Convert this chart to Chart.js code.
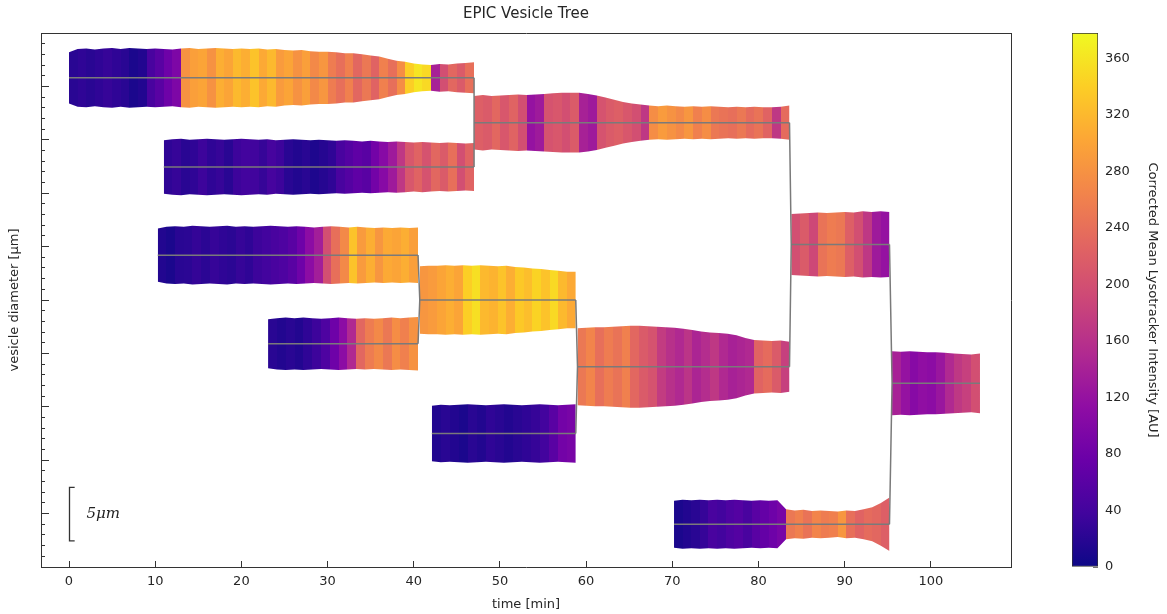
<!DOCTYPE html>
<html>
<head>
<meta charset="utf-8">
<title>EPIC Vesicle Tree</title>
<script src="https://cdn.jsdelivr.net/npm/chart.js@4.4.1/dist/chart.umd.min.js"></script>
<style>
  html, body { margin: 0; padding: 0; background: #fff; }
  #wrap { position: relative; width: 1167px; height: 614px; overflow: hidden; }
  #main { position: absolute; left: 0; top: 0; }
  #cbar { position: absolute; left: 1046px; top: 0; }
</style>
</head>
<body>
<div id="wrap">
  <canvas id="main" width="1046" height="614"></canvas>
  <canvas id="cbar" width="121" height="614"></canvas>
</div>
<script>
// axis limits
const xMin = -3.25, xMax = 109.3;   // time [min]
const yMin = 0, yMax = 50;          // µm
const cbMax = 378;                  // colour bar top (AU)

// branches of the tree: start/end time [min], centre line [µm]
const branchNames  = ['A', 'B', 'C', 'D', 'E', 'F', 'G', 'H', 'I', 'J', 'K'];
const branchStart  = [0, 11.0, 10.3, 23.1, 40.7, 42.1, 47.0, 59.0, 83.8, 70.2, 95.5];
const branchEnd    = [47.0, 47.0, 40.5, 40.5, 58.8, 58.8, 83.6, 83.6, 95.2, 95.2, 105.7];
const branchCenter = [45.8, 37.45, 29.2, 20.9, 25.0, 12.5, 41.6, 18.75, 30.2, 4.0, 17.2];

// fusions: [upper child, product, lower child]
const merges = [[0, 6, 1], [2, 4, 3], [4, 7, 5], [6, 8, 7], [8, 10, 9]];

// vesicle diameter [µm] along each branch (evenly spaced from start to end)
const diamA = [4.8, 5.4, 5.5, 5.3, 5.5, 5.6, 5.4, 5.6, 5.5, 5.4,
               5.5, 5.4, 5.3, 5.5, 5.6, 5.4, 5.5, 5.6, 5.5, 5.4,
               5.5, 5.4, 5.5, 5.3, 5.4, 5.2, 5.1, 5.2, 5.0, 4.9,
               4.9, 4.8, 4.6, 4.6, 4.4, 4.2, 4.0, 3.6, 3.2, 3.0,
               2.7, 2.5, 2.4, 2.6, 2.5, 2.7, 2.8, 2.9];
const diamB = [5.0, 5.2, 5.3, 5.1, 5.2, 5.3, 5.2, 5.1, 5.2, 5.3,
               5.2, 5.1, 5.2, 5.0, 5.1, 5.2, 5.1, 5.0, 5.1, 5.0,
               4.9, 5.0, 4.9, 4.8, 4.9, 4.8, 4.7, 4.8, 4.7, 4.6,
               4.7, 4.6, 4.5, 4.6, 4.5, 4.4, 4.5];
const diamC = [5.0, 5.3, 5.4, 5.3, 5.5, 5.4, 5.3, 5.4, 5.5, 5.3,
               5.4, 5.3, 5.4, 5.5, 5.4, 5.3, 5.4, 5.3, 5.2, 5.3,
               5.4, 5.3, 5.2, 5.3, 5.2, 5.1, 5.2, 5.1, 5.2, 5.1, 5.2];
const diamD = [4.6, 4.8, 4.9, 4.8, 4.9, 4.8, 4.7, 4.8, 4.9, 4.8,
               4.7, 4.8, 4.7, 4.8, 4.9, 4.8, 4.9, 5.0];
const diamE = [6.3, 6.4, 6.4, 6.5, 6.4, 6.5, 6.4, 6.5, 6.4, 6.3,
               6.4, 6.2, 6.1, 5.9, 5.8, 5.6, 5.5, 5.3, 5.3];
const diamF = [5.2, 5.4, 5.3, 5.4, 5.5, 5.4, 5.3, 5.4, 5.5, 5.4,
               5.3, 5.4, 5.5, 5.4, 5.3, 5.4, 5.5];
const diamG = [5.0, 5.2, 5.0, 5.1, 5.2, 5.3, 5.2, 5.3, 5.4, 5.5,
               5.6, 5.6, 5.6, 5.4, 5.1, 4.7, 4.3, 3.9, 3.6, 3.4,
               3.2, 3.1, 3.2, 3.1, 3.0, 3.1, 3.0, 3.1, 3.0, 2.9,
               3.0, 2.9, 3.0, 2.9, 2.9, 3.0, 3.2];
const diamH = [7.2, 7.3, 7.4, 7.4, 7.5, 7.6, 7.7, 7.7, 7.6, 7.5,
               7.4, 7.3, 7.1, 6.9, 6.6, 6.4, 6.3, 6.2, 5.9, 5.4,
               5.0, 4.9, 4.8, 4.9, 4.7];
const diamI = [5.7, 5.8, 5.9, 6.0, 5.9, 6.0, 6.1, 6.0, 6.2, 6.1, 6.2, 6.1];
const diamJ = [4.4, 4.6, 4.5, 4.6, 4.5, 4.6, 4.5, 4.6, 4.5, 4.4,
               4.5, 4.4, 4.5, 2.8, 2.6, 2.7, 2.5, 2.6, 2.5, 2.4,
               2.6, 2.5, 2.8, 3.2, 4.0, 5.0];
const diamK = [6.0, 5.9, 6.0, 5.9, 5.8, 5.8, 5.7, 5.6, 5.5, 5.4, 5.6];

// corrected mean lysotracker intensity [AU] at the same samples
const intA = [20, 25, 20, 25, 30, 25, 20, 10, 15, 45,
              60, 80, 95, 280, 295, 300, 280, 310, 300, 320,
              310, 330, 305, 320, 290, 300, 280, 295, 270, 285,
              255, 240, 260, 230, 250, 225, 260, 240, 275, 340,
              360, 350, 140, 200, 230, 215, 240, 235];
const intB = [25, 30, 20, 25, 35, 25, 30, 20, 35, 40,
              38, 30, 42, 35, 20, 15, 20, 12, 18, 25,
              45, 55, 65, 60, 85, 105, 130, 170, 210, 225,
              205, 230, 215, 240, 200, 225, 220];
const intC = [15, 10, 20, 22, 28, 22, 30, 25, 22, 30,
              25, 35, 40, 45, 50, 60, 80, 110, 135, 200,
              240, 270, 330, 290, 310, 285, 305, 300, 310, 295, 285];
const intD = [20, 15, 20, 15, 25, 35, 50, 80, 110, 150,
              230, 255, 270, 250, 275, 260, 280, 270];
const intE = [285, 290, 300, 310, 300, 340, 355, 320, 315, 330,
              310, 335, 325, 345, 330, 350, 320, 305, 300];
const intF = [15, 20, 15, 10, 20, 15, 25, 20, 15, 20,
              25, 30, 40, 60, 85, 90, 95];
const intG = [220, 215, 230, 210, 225, 200, 120, 130, 205, 210,
              200, 215, 140, 130, 205, 215, 220, 210, 200, 170,
              275, 290, 280, 270, 285, 260, 275, 250, 245, 240,
              250, 235, 245, 225, 170, 235, 240];
const intH = [250, 265, 240, 255, 245, 260, 230, 215, 205, 175,
              160, 150, 165, 145, 155, 170, 150, 140, 145, 150,
              225, 235, 215, 180, 175];
const intI = [200, 215, 190, 245, 255, 250, 220, 200, 170, 130, 120, 135];
const intJ = [10, 15, 20, 30, 45, 40, 50, 55, 45, 60,
              70, 80, 90, 250, 260, 245, 265, 255, 260, 285,
              240, 225, 235, 230, 220, 215];
const intK = [140, 120, 105, 115, 110, 125, 150, 170, 180, 200, 205];

const colorTicks = [0, 40, 80, 120, 160, 200, 240, 280, 320, 360];

// scale bar
const scaleBarTime = 0;
const scaleBarBase = 2.45;
const scaleBarLength = 5;
const scaleBarLabel = '5μm';

const diams = [diamA, diamB, diamC, diamD, diamE, diamF, diamG, diamH, diamI, diamJ, diamK];
const ints = [intA, intB, intC, intD, intE, intF, intG, intH, intI, intJ, intK];

/* ── plasma colormap ── */
const plasmaStops = ['#0d0887', '#41049d', '#6a00a8', '#8f0da4', '#b12a90', '#cc4778',
                     '#e16462', '#f2844b', '#fca636', '#fcce25', '#f0f921'];
const plasmaRgb = plasmaStops.map(h => [1, 3, 5].map(i => parseInt(h.substr(i, 2), 16)));

function plasma(v) {
    const f = Math.max(0, Math.min(1, v / cbMax)) * 10;
    const i = Math.min(9, Math.floor(f));
    const t = f - i;
    const a = plasmaRgb[i], b = plasmaRgb[i + 1];
    const c = a.map((ch, k) => Math.round(ch + (b[k] - ch) * t));
    return `rgb(${c[0]}, ${c[1]}, ${c[2]})`;
}

// horizontal striped gradient for one branch, positioned through the x scale
function branchFill(b) {
    return ctx => {
        const chart = ctx.chart;
        const xs = chart.scales.x;
        if (!chart.chartArea || !xs) return plasma(ints[b][0]);
        const x0 = xs.getPixelForValue(branchStart[b]);
        const x1 = xs.getPixelForValue(branchEnd[b]);
        const g = chart.ctx.createLinearGradient(x0, 0, x1, 0);
        const vals = ints[b];
        const n = vals.length;
        for (let i = 0; i < n - 1; i++) {
            const col = plasma(vals[i]);
            g.addColorStop(i / (n - 1), col);
            g.addColorStop((i + 1) / (n - 1), col);
        }
        return g;
    };
}

/* ── datasets ── */
const datasets = [];
const lineGrey = '#7a7a7a';

branchNames.forEach((name, b) => {
    const d = diams[b];
    const n = d.length;
    const times = d.map((_, i) => branchStart[b] + i * (branchEnd[b] - branchStart[b]) / (n - 1));
    datasets.push({
        label: name + ' upper',
        data: times.map((t, i) => ({ x: t, y: branchCenter[b] + d[i] / 2 })),
        fill: '+1',
        backgroundColor: branchFill(b),
        borderColor: 'rgba(0,0,0,0)',
        borderWidth: 0,
        pointRadius: 0,
        order: 2
    });
    datasets.push({
        label: name + ' lower',
        data: times.map((t, i) => ({ x: t, y: branchCenter[b] - d[i] / 2 })),
        fill: false,
        borderColor: 'rgba(0,0,0,0)',
        borderWidth: 0,
        pointRadius: 0,
        order: 2
    });
});

// centre lines
branchNames.forEach((name, b) => {
    datasets.push({
        label: name + ' axis',
        data: [{ x: branchStart[b], y: branchCenter[b] }, { x: branchEnd[b], y: branchCenter[b] }],
        borderColor: lineGrey,
        borderWidth: 1.5,
        pointRadius: 0,
        fill: false,
        order: 0
    });
});

// fusion connectors
merges.forEach(([u, p, l]) => {
    datasets.push({
        label: 'fusion ' + branchNames[p],
        data: [
            { x: branchEnd[u], y: branchCenter[u] },
            { x: branchStart[p], y: branchCenter[p] },
            { x: branchEnd[l], y: branchCenter[l] }
        ],
        borderColor: lineGrey,
        borderWidth: 1.5,
        pointRadius: 0,
        fill: false,
        order: 0
    });
});

/* ── scale bar ── */
const scaleBarPlugin = {
    id: 'scaleBar',
    afterDatasetsDraw(chart) {
        const { ctx, scales: { x, y } } = chart;
        const px = Math.round(x.getPixelForValue(scaleBarTime)) + 0.5;
        const y0 = y.getPixelForValue(scaleBarBase);
        const y1 = y.getPixelForValue(scaleBarBase + scaleBarLength);
        const cap = x.getPixelForValue(scaleBarTime + 0.6) - x.getPixelForValue(scaleBarTime);
        ctx.save();
        ctx.strokeStyle = '#333';
        ctx.lineWidth = 1.3;
        ctx.beginPath();
        ctx.moveTo(px + cap, y0);
        ctx.lineTo(px, y0);
        ctx.lineTo(px, y1);
        ctx.lineTo(px + cap, y1);
        ctx.stroke();
        ctx.font = 'italic 15px "DejaVu Serif"';
        ctx.fillStyle = '#222';
        ctx.textBaseline = 'middle';
        ctx.fillText(scaleBarLabel, px + 17, (y0 + y1) / 2);
        ctx.restore();
    }
};

const axisColor = '#333';
const textColor = '#262626';
const font13 = { family: 'DejaVu Sans', size: 13 };

new Chart(document.getElementById('main'), {
    type: 'line',
    data: { datasets },
    options: {
        responsive: false,
        animation: false,
        events: [],
        layout: { padding: { left: 0, right: 35, top: 0, bottom: 0 } },
        plugins: {
            legend: { display: false },
            tooltip: { enabled: false },
            title: {
                display: true,
                text: 'EPIC Vesicle Tree',
                color: textColor,
                fullSize: false,
                font: { family: 'DejaVu Sans', size: 15, weight: 'normal' },
                padding: { top: 5, bottom: 10 }
            }
        },
        scales: {
            x: {
                type: 'linear',
                position: 'bottom',
                min: xMin, max: xMax,
                ticks: { stepSize: 10, includeBounds: false, color: textColor, font: font13, padding: 13, maxRotation: 0 },
                grid: { drawOnChartArea: false, tickLength: -6, tickColor: axisColor },
                border: { color: axisColor, width: 1 },
                title: { display: true, text: 'time [min]', color: textColor, font: font13, padding: { top: 0, bottom: 2 } },
                afterFit: s => { s.height = 47; }
            },
            xTop: {
                type: 'linear',
                position: 'top',
                min: xMin, max: xMax,
                ticks: { display: false },
                grid: { drawOnChartArea: false, drawTicks: false },
                border: { color: axisColor, width: 1 },
                afterFit: s => { s.height = 0; }
            },
            y: {
                type: 'linear',
                position: 'left',
                weight: 1,
                min: yMin, max: yMax,
                ticks: { stepSize: 5, display: false },
                grid: { drawOnChartArea: false, tickLength: -8, tickColor: axisColor },
                border: { color: axisColor, width: 1 },
                title: { display: true, text: 'vesicle diameter [μm]', color: textColor, font: font13, padding: { top: 7, bottom: 0 } },
                afterFit: s => { s.width = 41; }
            },
            yMinor: {
                type: 'linear',
                position: 'left',
                weight: 0,
                min: yMin, max: yMax,
                ticks: { stepSize: 1, display: false },
                grid: { drawOnChartArea: false, tickLength: -4, tickColor: axisColor },
                border: { display: false },
                afterFit: s => { s.width = 0; }
            },
            yRight: {
                type: 'linear',
                position: 'right',
                min: yMin, max: yMax,
                ticks: { display: false },
                grid: { drawOnChartArea: false, drawTicks: false },
                border: { color: axisColor, width: 1 },
                afterFit: s => { s.width = 0; }
            }
        }
    },
    plugins: [scaleBarPlugin]
});

/* ── colour bar ── */
new Chart(document.getElementById('cbar'), {
    type: 'bar',
    data: {
        labels: [''],
        datasets: [{
            data: [[0, cbMax]],
            backgroundColor: c => {
                const chart = c.chart;
                if (!chart.chartArea) return plasmaStops[5];
                const ys = chart.scales.y;
                const g = chart.ctx.createLinearGradient(0, ys.getPixelForValue(0), 0, ys.getPixelForValue(cbMax));
                plasmaStops.forEach((col, i) => g.addColorStop(i / 10, col));
                return g;
            },
            borderColor: axisColor,
            borderWidth: 1,
            borderSkipped: false,
            barPercentage: 1,
            categoryPercentage: 1
        }]
    },
    options: {
        responsive: false,
        animation: false,
        events: [],
        layout: { padding: { left: 26, right: 0, top: 33, bottom: 47 } },
        plugins: { legend: { display: false }, tooltip: { enabled: false } },
        scales: {
            x: { display: false },
            y: {
                position: 'right',
                min: 0, max: cbMax,
                afterBuildTicks: s => { s.ticks = colorTicks.map(v => ({ value: v })); },
                ticks: { color: textColor, font: font13, padding: 12 },
                grid: { drawOnChartArea: false, tickLength: -5, tickColor: 'rgba(0,0,0,0.55)' },
                border: { display: false },
                title: { display: true, text: 'Corrected Mean Lysotracker Intensity [AU]', color: textColor, font: font13, padding: { top: 7, bottom: 0 } },
                afterFit: s => { s.width = 69; }
            }
        }
    }
});
</script>
</body>
</html>
